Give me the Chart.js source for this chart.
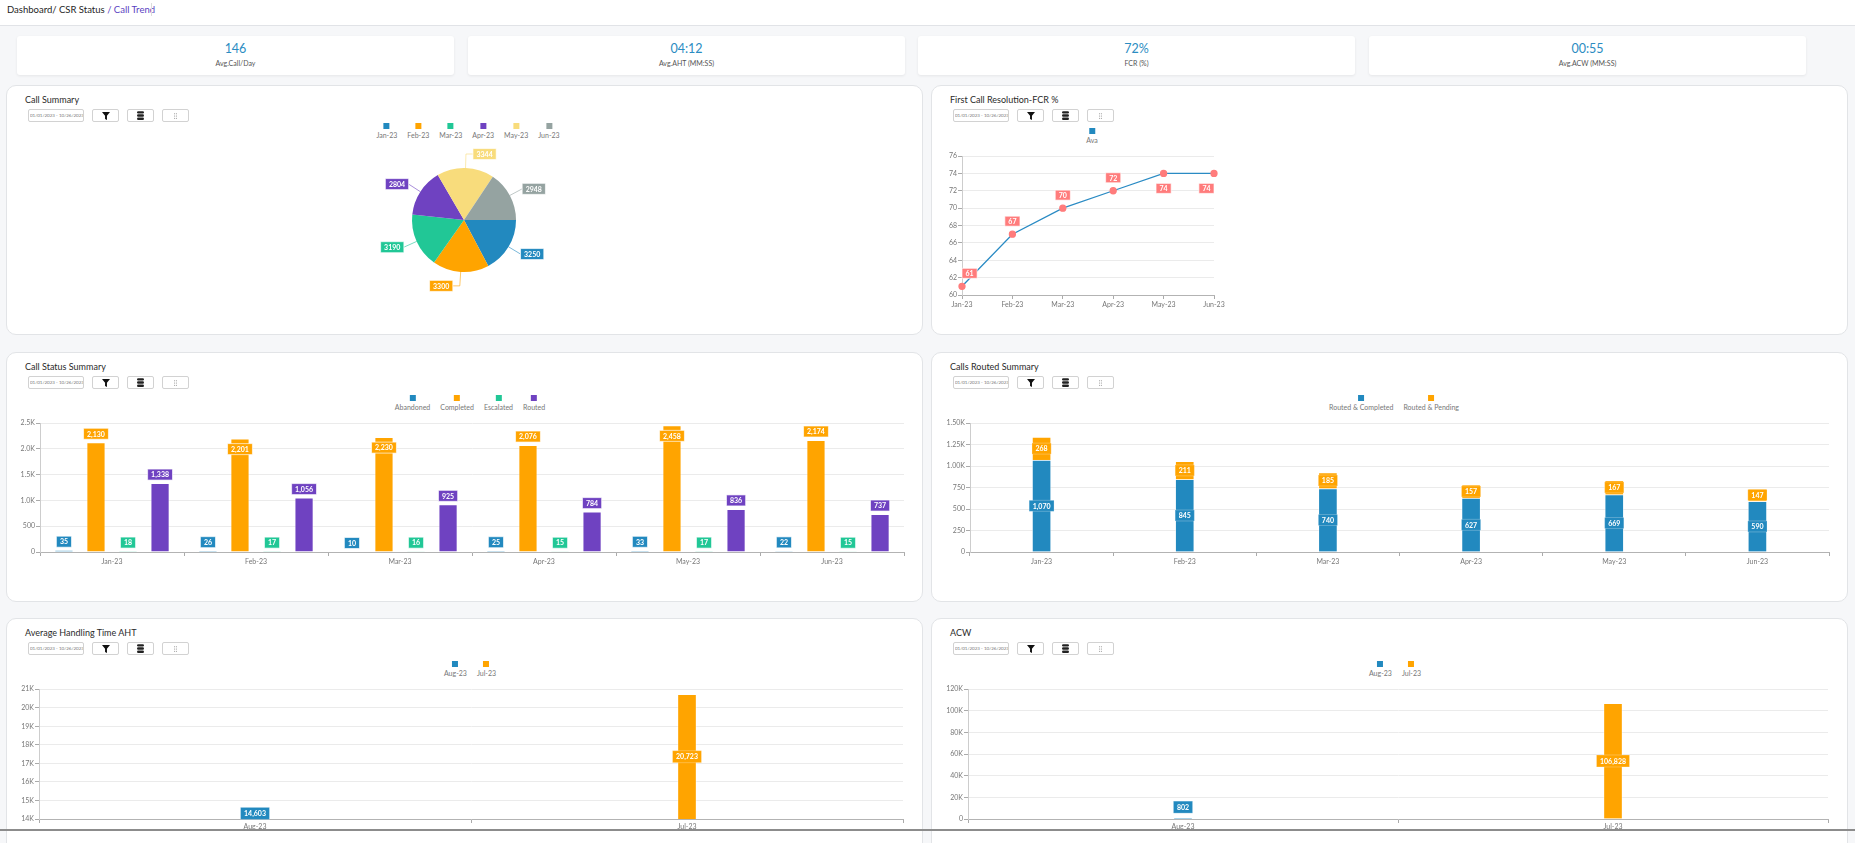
<!DOCTYPE html>
<html>
<head>
<meta charset="utf-8">
<title>Call Trend</title>
<script src="https://cdn.jsdelivr.net/npm/chart.js@4.4.0/dist/chart.umd.min.js"></script>
<style>
  body { margin: 0; width: 1855px; height: 843px; overflow: hidden; background: #f6f7f9; font-family: Lato, "Open Sans", sans-serif; position: relative; }
  .hdr { position: absolute; left: 0; top: 0; width: 1855px; height: 25px; background: #fff; border-bottom: 1px solid #e1e3e7; }
  .crumb { position: absolute; left: 7px; top: 4px; font-size: 9.5px; line-height: 12px; color: #1e1e1e; white-space: nowrap; }
  .crumb span { color: #5b3fc2; }
  .sep { position: absolute; left: 151px; top: 3px; width: 1px; height: 13px; background: #dcdcdc; }
  .card { position: absolute; top: 36px; width: 437px; height: 39px; background: #fff; border-radius: 3px; box-shadow: 0 1px 3px rgba(0,0,0,0.07); text-align: center; }
  .card .v { position: absolute; left: 0; right: 0; top: 5px; font-size: 12.5px; line-height: 16px; color: #2b8cc2; }
  .card .l { position: absolute; left: 0; right: 0; top: 22px; font-size: 7px; line-height: 10px; color: #555; }
  .panel { position: absolute; width: 915px; background: #fff; border: 1px solid #e2e4e7; border-radius: 10px; }
  .panel .t { position: absolute; left: 18px; top: 8px; font-size: 9px; line-height: 12px; color: #2a2a2a; white-space: nowrap; }
  .ctl { position: absolute; top: 23px; height: 13px; border: 1px solid #d2d2d2; border-radius: 2px; background: #fff; box-sizing: border-box; display: flex; align-items: center; justify-content: center; }
  .date { width: 56px; justify-content: flex-start; overflow: hidden; }
  .date span { display: inline-block; font-size: 9px; color: #777; white-space: nowrap; transform: scale(0.5); transform-origin: 2px 50%; }
  .btn { width: 27px; }
  .legend { position: absolute; transform: translateX(-50%); display: flex; gap: 10px; }
  .legend .it { display: flex; flex-direction: column; align-items: center; }
  .legend .bx { width: 6px; height: 6px; margin-bottom: 2px; }
  .legend .tx { font-size: 7px; line-height: 8px; color: #777; white-space: nowrap; }
  .cw { position: absolute; }
  .scroll { position: absolute; left: 0; top: 829px; width: 1855px; height: 2px; background: #8c8c8c; }
</style>
</head>
<body>
<script>
// ---- data ----
const months = ['Jan-23', 'Feb-23', 'Mar-23', 'Apr-23', 'May-23', 'Jun-23'];
const callSummary = [3250, 3300, 3190, 2804, 3344, 2948];
const fcrAvg = [61, 67, 70, 72, 74, 74];

const statusNames = ['Abandoned', 'Completed', 'Escalated', 'Routed'];
const abandoned = [35, 26, 10, 25, 33, 22];
const completed = [2130, 2201, 2230, 2076, 2458, 2174];
const escalated = [18, 17, 16, 15, 17, 15];
const routed = [1338, 1056, 925, 784, 836, 737];

const routedNames = ['Routed & Completed', 'Routed & Pending'];
const routedCompleted = [1070, 845, 740, 627, 669, 590];
const routedPending = [268, 211, 185, 157, 167, 147];

const periods = ['Aug-23', 'Jul-23'];
const ahtAug = [14603, null];
const ahtJul = [null, 20723];
const acwAug = [802, null];
const acwJul = [null, 106828];

// axis ranges [min, max, step]
const fcrRange = [60, 76, 2];
const statusRange = [0, 2500, 500];
const routedRange = [0, 1500, 250];
const ahtRange = [14000, 21000, 1000];
const acwRange = [0, 120000, 20000];

const kpis = [['146', 'Avg.Call/Day'], ['04:12', 'Avg.AHT (MM:SS)'], ['72%', 'FCR (%)'], ['00:55', 'Avg.ACW (MM:SS)']];

const BLUE = '#2289bf', ORANGE = '#ffa400', GREEN = '#21c796', PURPLE = '#6f42c1', YELLOW = '#f8dc7c', GREY = '#95a3a1', SALMON = '#ff7c7c';
const pieColors = [BLUE, ORANGE, GREEN, PURPLE, YELLOW, GREY];

// ---- page scaffolding ----
const filterSvg = '<svg width="8" height="8" viewBox="0 0 10 10"><path d="M0 0H10L6.2 4.8V10L3.8 8.8V4.8Z" fill="#111"/></svg>';
const dbSvg = '<svg width="7" height="9" viewBox="0 0 8 10"><rect x="0" y="0" width="8" height="2.8" rx="1.4" fill="#222"/><rect x="0" y="3.6" width="8" height="2.8" rx="1.4" fill="#222"/><rect x="0" y="7.2" width="8" height="2.8" rx="1.4" fill="#222"/></svg>';
const dotsSvg = '<svg width="3" height="6" viewBox="0 0 3 6"><circle cx="0.6" cy="0.8" r="0.55" fill="#888"/><circle cx="2.4" cy="0.8" r="0.55" fill="#888"/><circle cx="0.6" cy="3" r="0.55" fill="#888"/><circle cx="2.4" cy="3" r="0.55" fill="#888"/><circle cx="0.6" cy="5.2" r="0.55" fill="#888"/><circle cx="2.4" cy="5.2" r="0.55" fill="#888"/></svg>';

let html = '<div class="hdr"><div class="crumb">Dashboard/ CSR Status <span>/ Call Trend</span></div><div class="sep"></div></div>';
[17, 468, 918, 1369].forEach((x, i) => {
  html += `<div class="card" style="left:${x}px"><div class="v">${kpis[i][0]}</div><div class="l">${kpis[i][1]}</div></div>`;
});
const panels = [
  [6, 85, 'Call Summary'], [931, 85, 'First Call Resolution-FCR %'],
  [6, 352, 'Call Status Summary'], [931, 352, 'Calls Routed Summary'],
  [6, 618, 'Average Handling Time AHT'], [931, 618, 'ACW']
];
panels.forEach(([x, y, t]) => {
  const h = y > 600 ? 260 : 248;
  html += `<div class="panel" style="left:${x}px;top:${y}px;height:${h}px"><div class="t">${t}</div>` +
    `<div class="ctl date" style="left:21px"><span>01/01/2023 - 10/26/2023</span></div>` +
    `<div class="ctl btn" style="left:85px">${filterSvg}</div>` +
    `<div class="ctl btn" style="left:120px">${dbSvg}</div>` +
    `<div class="ctl btn" style="left:155px">${dotsSvg}</div></div>`;
});
function legend(cx, top, names, colors) {
  let s = `<div class="legend" style="left:${cx}px;top:${top}px">`;
  names.forEach((n, i) => { s += `<div class="it"><div class="bx" style="background:${colors[i]}"></div><div class="tx">${n}</div></div>`; });
  return s + '</div>';
}
html += legend(468, 123, months, pieColors);
html += legend(1092, 128, ['Ava'], [BLUE]);
html += legend(470, 395, statusNames, [BLUE, ORANGE, GREEN, PURPLE]);
html += legend(1394, 395, routedNames, [BLUE, ORANGE]);
html += legend(470, 661, periods, [BLUE, ORANGE]);
html += legend(1395, 661, periods, [BLUE, ORANGE]);

const boxes = { pie: [214, 140, 500, 160], fcr: [930, 150, 300, 161], status: [10, 418, 900, 150], routed: [940, 418, 895, 150], aht: [9, 684, 900, 151], acw: [935, 684, 899, 151] };
Object.entries(boxes).forEach(([id, [l, t, w, h]]) => {
  html += `<div class="cw" style="left:${l}px;top:${t}px;width:${w}px;height:${h}px"><canvas id="${id}"></canvas></div>`;
});
html += '<div class="scroll"></div>';
document.body.insertAdjacentHTML('beforeend', html);

// ---- chart defaults ----
Chart.defaults.font.family = 'Lato, "Open Sans", sans-serif';
Chart.defaults.font.size = 7;
Chart.defaults.color = '#777';
Chart.defaults.animation = false;
Chart.defaults.responsive = true;
Chart.defaults.maintainAspectRatio = false;
Chart.defaults.plugins.legend.display = false;
Chart.defaults.plugins.tooltip.enabled = false;

function drawBox(ctx, text, cx, cy, h, fill, edge) {
  const w = ctx.measureText(text).width + 7;
  ctx.fillStyle = fill;
  ctx.fillRect(cx - w / 2, cy - h / 2, w, h);
  ctx.strokeStyle = edge || 'rgba(255,255,255,0.65)';
  ctx.lineWidth = 1;
  ctx.strokeRect(cx - w / 2, cy - h / 2, w, h);
  ctx.fillStyle = '#fff';
  ctx.fillText(text, cx, cy + 0.5);
}

// value labels in coloured boxes (top of bar / centre of bar / above point)
const valueLabels = {
  id: 'valueLabels',
  afterDatasetsDraw(chart, args, opts) {
    const ctx = chart.ctx, area = chart.chartArea, h = opts.h || 11;
    ctx.save();
    ctx.font = 'bold 7px Lato, "Open Sans", sans-serif';
    ctx.textAlign = 'center';
    ctx.textBaseline = 'middle';
    chart.data.datasets.forEach((ds, di) => {
      chart.getDatasetMeta(di).data.forEach((el, i) => {
        const v = ds.data[i];
        if (v == null) return;
        const text = v.toLocaleString('en-US');
        const w = ctx.measureText(text).width + 7;
        const fill = ds.pointBackgroundColor || ds.backgroundColor;
        let cx = el.x, cy, edge;
        if (opts.mode === 'top') {
          cy = el.y - 3 - h / 2;
          if (el.y - area.top < h + 5) cy = el.y + h / 2 + 5;
        } else if (opts.mode === 'center') {
          const base = Math.min(el.base, area.bottom);
          cy = Math.abs(base - el.y) < h / 2 ? el.y - 5 - h / 2 : (el.y + base) / 2;
          edge = 'rgba(255,255,255,0.25)';
        } else {
          cy = el.y - 8 - h / 2;
          if (cy - h / 2 < area.top) cy = el.y + 10 + h / 2;
          cx = Math.min(Math.max(cx, area.left + w / 2), area.right - w / 2);
        }
        drawBox(ctx, text, cx, cy, h, fill, edge);
      });
    });
    ctx.restore();
  }
};

// pie callouts with leader lines
const pieCallouts = {
  id: 'pieCallouts',
  afterDatasetsDraw(chart) {
    const ctx = chart.ctx, ds = chart.data.datasets[0];
    ctx.save();
    ctx.font = 'bold 7px Lato, "Open Sans", sans-serif';
    ctx.textAlign = 'center';
    ctx.textBaseline = 'middle';
    chart.getDatasetMeta(0).data.forEach((arc, i) => {
      const { x, y, startAngle, endAngle, outerRadius } = arc.getProps(['x', 'y', 'startAngle', 'endAngle', 'outerRadius']);
      const mid = (startAngle + endAngle) / 2, c = Math.cos(mid), s = Math.sin(mid);
      const side = c >= 0 ? 1 : -1;
      const x1 = x + c * outerRadius, y1 = y + s * outerRadius;
      const x2 = x + c * (outerRadius + 14), y2 = y + s * (outerRadius + 14);
      const x3 = x2 + side * (Math.abs(c) < 0.3 ? 7 : 0);
      ctx.globalAlpha = 0.6;
      ctx.strokeStyle = ds.backgroundColor[i];
      ctx.lineWidth = 1;
      ctx.beginPath();
      ctx.moveTo(x1, y1); ctx.lineTo(x2, y2); ctx.lineTo(x3, y2);
      ctx.stroke();
      ctx.globalAlpha = 1;
      const text = String(ds.data[i]);
      const w = ctx.measureText(text).width + 7;
      drawBox(ctx, text, x3 + side * w / 2, y2, 11, ds.backgroundColor[i]);
    });
    ctx.restore();
  }
};

function scales(range, fmt, yWidth, isLine, xPad) {
  return {
    x: {
      grid: { drawOnChartArea: false, tickLength: 4, tickColor: '#aaa', offset: !isLine },
      border: { color: '#b3b3b3' },
      ticks: { padding: xPad == null ? 2 : xPad, maxRotation: 0, autoSkip: false, color: '#777' },
      afterFit: s => { s.height = 16; }
    },
    y: {
      min: range[0], max: range[1],
      grid: { color: '#ebebeb', tickLength: 4, tickColor: '#aaa' },
      border: { color: '#cdcdcd' },
      ticks: { stepSize: range[2], padding: 1, color: '#777', callback: fmt },
      afterFit: s => { s.width = yWidth; }
    }
  };
}
const barStyle = { borderWidth: 1, borderColor: 'rgba(255,255,255,0.45)' };

new Chart(document.getElementById('pie'), {
  type: 'pie',
  data: { labels: months, datasets: [{ data: callSummary, backgroundColor: pieColors, borderWidth: 0, radius: 52 }] },
  options: { rotation: 90 },
  plugins: [pieCallouts]
});

new Chart(document.getElementById('fcr'), {
  type: 'line',
  data: {
    labels: months,
    datasets: [{ label: 'Ava', data: fcrAvg, borderColor: '#2a8bc4', borderWidth: 1.3, tension: 0,
      pointBackgroundColor: SALMON, pointBorderColor: SALMON, pointRadius: 3 }]
  },
  options: {
    layout: { padding: { top: 6, right: 16 } },
    scales: scales(fcrRange, v => v, 32, true),
    plugins: { valueLabels: { mode: 'point', h: 10 } }
  },
  plugins: [valueLabels]
});

new Chart(document.getElementById('status'), {
  type: 'bar',
  data: {
    labels: months,
    datasets: [abandoned, completed, escalated, routed].map((d, i) => Object.assign({
      label: statusNames[i], data: d, backgroundColor: [BLUE, ORANGE, GREEN, PURPLE][i]
    }, barStyle))
  },
  options: {
    categoryPercentage: 0.89, barPercentage: 0.6,
    layout: { padding: { top: 5, right: 6 } },
    scales: scales(statusRange, v => v >= 1000 ? (v / 1000).toFixed(1) + 'K' : v, 30, false),
    plugins: { valueLabels: { mode: 'top', h: 11 } }
  },
  plugins: [valueLabels]
});

const routedScales = scales(routedRange, v => v >= 1000 ? (v / 1000).toFixed(2) + 'K' : v, 30, false);
routedScales.x.stacked = true;
routedScales.y.stacked = true;
new Chart(document.getElementById('routed'), {
  type: 'bar',
  data: {
    labels: months,
    datasets: [
      Object.assign({ label: routedNames[0], data: routedCompleted, backgroundColor: BLUE, barThickness: 19 }, barStyle),
      Object.assign({ label: routedNames[1], data: routedPending, backgroundColor: ORANGE, barThickness: 19 }, barStyle)
    ]
  },
  options: {
    layout: { padding: { top: 5, right: 6 } },
    scales: routedScales,
    plugins: { valueLabels: { mode: 'center', h: 11 } }
  },
  plugins: [valueLabels]
});

function periodChart(id, a, b, range, yWidth) {
  new Chart(document.getElementById(id), {
    type: 'bar',
    data: {
      labels: periods,
      datasets: [
        Object.assign({ label: periods[0], data: a, backgroundColor: BLUE, barThickness: 19, skipNull: true }, barStyle),
        Object.assign({ label: periods[1], data: b, backgroundColor: ORANGE, barThickness: 19, skipNull: true }, barStyle)
      ]
    },
    options: {
      layout: { padding: { top: 5, right: 6 } },
      scales: scales(range, v => v === 0 ? '0' : (v / 1000) + 'K', yWidth, false, 0),
      plugins: { valueLabels: { mode: 'center', h: 12 } }
    },
    plugins: [valueLabels]
  });
}
periodChart('aht', ahtAug, ahtJul, ahtRange, 30);
periodChart('acw', acwAug, acwJul, acwRange, 33);
</script>
</body>
</html>
